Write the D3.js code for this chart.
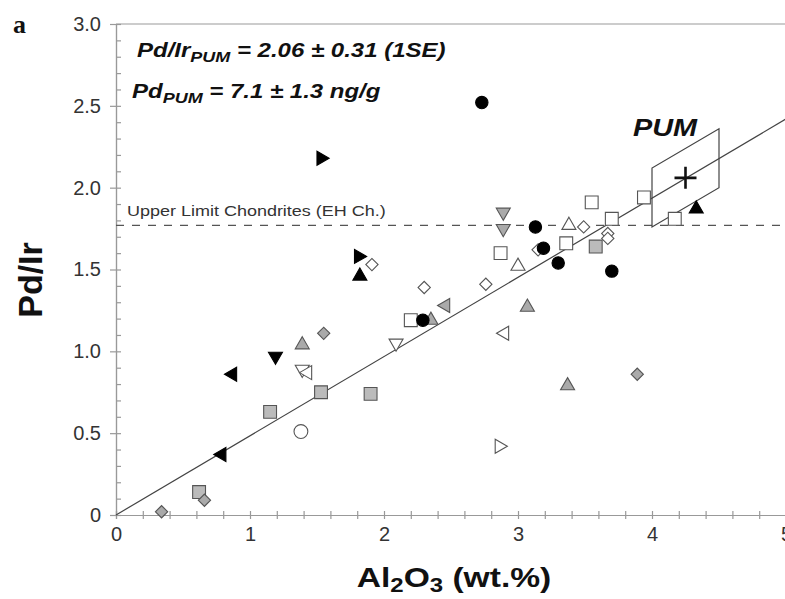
<!DOCTYPE html>
<html>
<head>
<meta charset="utf-8">
<script src="https://cdn.jsdelivr.net/npm/d3@7"></script>
<style>
  body { margin: 0; background: #fff; }
  text { font-family: "Liberation Sans", Arial, sans-serif; }
</style>
</head>
<body>
<script>
// Data (Al2O3 wt.%, Pd/Ir)
const blackCircle   = [[2.73, 2.52], [3.13, 1.76], [3.19, 1.63], [3.30, 1.54], [3.70, 1.49], [2.29, 1.19]];
const openCircle    = [[1.38, 0.51]];
const openSquare    = [[3.55, 1.91], [3.94, 1.94], [3.70, 1.81], [3.36, 1.66], [4.17, 1.81], [2.87, 1.60], [2.20, 1.19]];
const greySquare    = [[3.58, 1.64], [0.62, 0.14], [1.15, 0.63], [1.53, 0.75], [1.90, 0.74]];
const openDiamond   = [[1.91, 1.53], [2.30, 1.39], [2.76, 1.41], [3.49, 1.76], [3.67, 1.72], [3.67, 1.69], [3.15, 1.62]];
const greyDiamond   = [[1.55, 1.11], [0.34, 0.02], [0.66, 0.09], [3.89, 0.86]];
const openTriUp     = [[3.38, 1.77], [3.00, 1.52]];
const greyTriUp     = [[1.39, 1.04], [2.35, 1.19], [3.07, 1.27], [3.37, 0.79]];
const blackTriUp    = [[1.82, 1.46], [4.33, 1.87]];
const openTriDown   = [[2.09, 1.05], [1.39, 0.89]];
const greyTriDown   = [[2.89, 1.85], [2.89, 1.75]];
const blackTriDown  = [[1.19, 0.97]];
const blackTriLeft  = [[0.87, 0.86], [0.79, 0.37]];
const openTriLeft   = [[1.43, 0.87], [2.90, 1.11]];
const greyTriLeft   = [[2.46, 1.28]];
const blackTriRight = [[1.53, 2.18], [1.81, 1.58]];
const openTriRight  = [[2.86, 0.42]];

const pumPoint = [4.25, 2.06];
const pumBox = [[4.0, 1.76], [4.0, 2.12], [4.5, 2.36], [4.5, 2.0]];
const fitSlope = 0.484;
const chondriteLimit = 1.77;

const xTicks = [0, 1, 2, 3, 4, 5];
const yTicks = [0, 0.5, 1.0, 1.5, 2.0, 2.5, 3.0];
const yTickLabels = ["0", "0.5", "1.0", "1.5", "2.0", "2.5", "3.0"];

const W = 785, H = 599;
const svg = d3.select("body").append("svg").attr("width", W).attr("height", H);

const x = d3.scaleLinear().domain([0, 5]).range([116, 786]);
const y = d3.scaleLinear().domain([0, 3]).range([515, 24]);

const axisColor = "#999";
const stretch = "scale(1.2,1)";

// top frame line
svg.append("line")
  .attr("x1", x(0)).attr("x2", x(5)).attr("y1", y(3)).attr("y2", y(3))
  .attr("stroke", axisColor).attr("stroke-width", 1.2);

// y axis: minor inside, major crossing
const yMinor = d3.range(0, 3.001, 0.1);
svg.append("g").attr("transform", `translate(${x(0)},0)`)
  .call(d3.axisLeft(y).tickValues(yMinor).tickSize(-5).tickFormat(""));
svg.append("g").attr("transform", `translate(${x(0)},0)`)
  .call(d3.axisLeft(y).tickValues(yTicks).tickSize(6).tickPadding(9)
    .tickFormat((d, i) => yTickLabels[i]));

// x axis: ticks crossing the line
const xMinor = d3.range(0, 5.001, 0.2);
svg.append("g").attr("transform", `translate(0,${y(0)})`)
  .call(d3.axisBottom(x).tickValues(xMinor).tickSize(4).tickFormat(""));
svg.append("g").attr("transform", `translate(0,${y(0)})`)
  .call(d3.axisBottom(x).tickValues(xMinor).tickSize(-4).tickFormat(""));
svg.append("g").attr("transform", `translate(0,${y(0)})`)
  .call(d3.axisBottom(x).tickValues(xTicks).tickSize(0).tickPadding(12).tickFormat(d3.format("d")));

svg.selectAll(".domain").attr("stroke", axisColor).attr("stroke-width", 1.2);
svg.selectAll(".tick line").attr("stroke", axisColor).attr("stroke-width", 1.2);
svg.selectAll(".tick text").attr("fill", "#333").style("font-size", "20px")
  .style("font-family", "'Liberation Sans', Arial, sans-serif");

// chondrite limit
svg.append("line")
  .attr("x1", x(0)).attr("x2", x(5)).attr("y1", y(chondriteLimit)).attr("y2", y(chondriteLimit))
  .attr("stroke", "#555").attr("stroke-width", 1.3).attr("stroke-dasharray", "8,8");

svg.append("text")
  .attr("transform", `translate(127,${y(chondriteLimit) - 9}) ${stretch}`)
  .attr("fill", "#333").style("font-size", "15px")
  .text("Upper Limit Chondrites (EH Ch.)");

// regression line through origin
svg.append("line")
  .attr("x1", x(0)).attr("y1", y(0)).attr("x2", x(5)).attr("y2", y(5 * fitSlope))
  .attr("stroke", "#444").attr("stroke-width", 1.2);

// PUM box
svg.append("path")
  .attr("d", d3.line().x(d => x(d[0])).y(d => y(d[1])).curve(d3.curveLinearClosed)(pumBox))
  .attr("fill", "none").attr("stroke", "#444").attr("stroke-width", 1.2);

// marker styles
const series = [
  { data: openSquare,    type: d3.symbolSquare,   size: 165, rot: 0,   fill: "#fff" },
  { data: greySquare,    type: d3.symbolSquare,   size: 165, rot: 0,   fill: "#bbb" },
  { data: openDiamond,   type: d3.symbolSquare,   size: 75,  rot: 45,  fill: "#fff" },
  { data: greyDiamond,   type: d3.symbolSquare,   size: 75,  rot: 45,  fill: "#aaa" },
  { data: openTriUp,     type: d3.symbolTriangle, size: 85,  rot: 0,   fill: "#fff" },
  { data: greyTriUp,     type: d3.symbolTriangle, size: 85,  rot: 0,   fill: "#aaa" },
  { data: blackTriUp,    type: d3.symbolTriangle, size: 85,  rot: 0,   fill: "#000" },
  { data: openTriDown,   type: d3.symbolTriangle, size: 85,  rot: 180, fill: "#fff" },
  { data: greyTriDown,   type: d3.symbolTriangle, size: 85,  rot: 180, fill: "#aaa" },
  { data: blackTriDown,  type: d3.symbolTriangle, size: 85,  rot: 180, fill: "#000" },
  { data: blackTriLeft,  type: d3.symbolTriangle, size: 85,  rot: -90, fill: "#000" },
  { data: openTriLeft,   type: d3.symbolTriangle, size: 85,  rot: -90, fill: "#fff" },
  { data: greyTriLeft,   type: d3.symbolTriangle, size: 85,  rot: -90, fill: "#aaa" },
  { data: blackTriRight, type: d3.symbolTriangle, size: 85,  rot: 90,  fill: "#000" },
  { data: openTriRight,  type: d3.symbolTriangle, size: 85,  rot: 90,  fill: "#fff" },
  { data: openCircle,    type: d3.symbolCircle,   size: 150, rot: 0,   fill: "#fff" },
  { data: blackCircle,   type: d3.symbolCircle,   size: 120, rot: 0,   fill: "#000" }
];

series.forEach(s => {
  svg.append("g").selectAll("path")
    .data(s.data)
    .join("path")
    .attr("transform", d => `translate(${x(d[0])},${y(d[1])}) rotate(${s.rot})`)
    .attr("d", d3.symbol().type(s.type).size(s.size))
    .attr("fill", s.fill)
    .attr("stroke", s.fill === "#000" ? "#000" : "#555")
    .attr("stroke-width", 1.1);
});

// PUM cross
const cx = x(pumPoint[0]), cy = y(pumPoint[1]);
svg.append("path")
  .attr("d", `M${cx - 11},${cy}H${cx + 11}M${cx},${cy - 11}V${cy + 11}`)
  .attr("stroke", "#111").attr("stroke-width", 2.6);

svg.append("text")
  .attr("transform", `translate(633,136) ${stretch}`)
  .style("font-size", "24px").style("font-weight", "bold").style("font-style", "italic")
  .attr("fill", "#111").text("PUM");

// annotations
function subText(tx, ty, main, sub, rest) {
  const t = svg.append("text")
    .attr("transform", `translate(${tx},${ty}) ${stretch}`)
    .style("font-size", "20px").style("font-weight", "bold").style("font-style", "italic")
    .attr("fill", "#111");
  t.append("tspan").text(main);
  t.append("tspan").attr("dy", 5).style("font-size", "15px").text(sub);
  t.append("tspan").attr("dy", -5).text(rest);
}
subText(137, 57, "Pd/Ir", "PUM", " = 2.06 ± 0.31 (1SE)");
subText(132, 98, "Pd", "PUM", " = 7.1 ± 1.3 ng/g");

// panel letter
svg.append("text").attr("x", 13).attr("y", 33)
  .style("font-family", "'Liberation Serif', 'Times New Roman', serif")
  .style("font-size", "26px").style("font-weight", "bold").attr("fill", "#111").text("a");

// axis titles
svg.append("text")
  .attr("transform", "translate(42,280) rotate(-90)")
  .attr("text-anchor", "middle")
  .style("font-size", "34px").style("font-weight", "bold").attr("fill", "#111")
  .text("Pd/Ir");

const xt = svg.append("text")
  .attr("transform", `translate(454,587) ${stretch}`)
  .attr("text-anchor", "middle")
  .style("font-size", "28px").style("font-weight", "bold").attr("fill", "#111");
xt.append("tspan").text("Al");
xt.append("tspan").attr("dy", 5).style("font-size", "20px").text("2");
xt.append("tspan").attr("dy", -5).text("O");
xt.append("tspan").attr("dy", 5).style("font-size", "20px").text("3");
xt.append("tspan").attr("dy", -5).text(" (wt.%)");
</script>
</body>
</html>
